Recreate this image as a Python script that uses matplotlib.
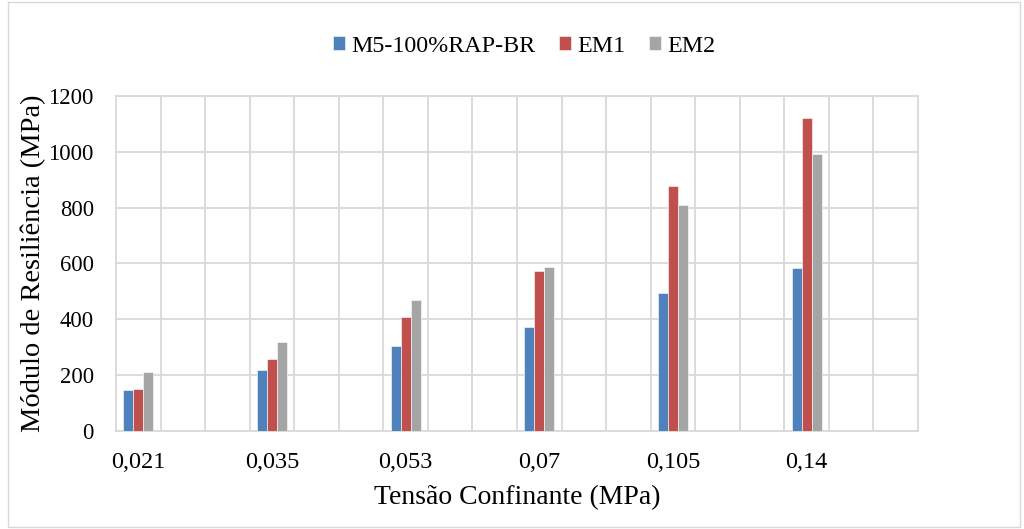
import numpy as np
import matplotlib.pyplot as plt
from matplotlib.patches import Rectangle

categorias = ['0,021', '0,035', '0,053', '0,07', '0,105', '0,14']
m5 = [146, 218, 306, 374, 493, 583]
em1 = [149, 258, 408, 572, 879, 1122]
em2 = [212, 320, 470, 586, 809, 992]
series = ['M5-100%RAP-BR', 'EM1', 'EM2']
cores = ['#4F81BD', '#C0504D', '#A5A5A5']

plt.rcParams['font.family'] = ['Liberation Serif', 'DejaVu Serif']

fig = plt.figure(figsize=(10.24, 5.29), dpi=100)
ax = fig.add_axes([0.1133, 0.1853, 0.7832, 0.6332])

# each category uses 3 cells of the x axis (18 cells total)
pos = np.arange(len(categorias)) * 3
w = 0.224
for k, (vals, nome, cor) in enumerate(zip([m5, em1, em2], series, cores)):
    ax.bar(pos + (k - 1) * w, vals, w, color=cor, label=nome,
           edgecolor='white', linewidth=0.4, zorder=3)

ax.set_xlim(-0.5, 17.5)
ax.set_ylim(0, 1200)
ax.set_yticks(np.arange(0, 1201, 200))
ax.set_xticks(pos)
ax.set_xticklabels(categorias)
ax.tick_params(length=0)
ax.tick_params(axis='x', pad=15, labelsize=17.5)
ax.tick_params(axis='y', pad=16, labelsize=16.3)

gc = '#D9D9D9'
for x in np.arange(0.5, 17.5, 1):
    ax.axvline(x, color=gc, lw=1.3, zorder=1)
ax.yaxis.grid(True, color=gc, lw=1.3, zorder=1)
ax.set_axisbelow(True)
for s in ax.spines.values():
    s.set_color(gc)
    s.set_linewidth(1.3)

ax.set_xlabel('Tensão Confinante (MPa)', fontsize=20, labelpad=9)
ax.set_ylabel('Módulo de Resiliência (MPa)', fontsize=20.5, labelpad=2)

fig.legend(loc='center', bbox_to_anchor=(0.512, 0.913), ncol=3, frameon=False,
           prop={'size': 17.3}, handlelength=0.5, handleheight=0.5,
           handletextpad=0.25, columnspacing=1.0)

fig.patches.append(Rectangle((0.008, 0.003), 0.988, 0.994, transform=fig.transFigure,
                             fill=False, edgecolor=gc, lw=1))

fig.savefig('out.png', dpi=100)
